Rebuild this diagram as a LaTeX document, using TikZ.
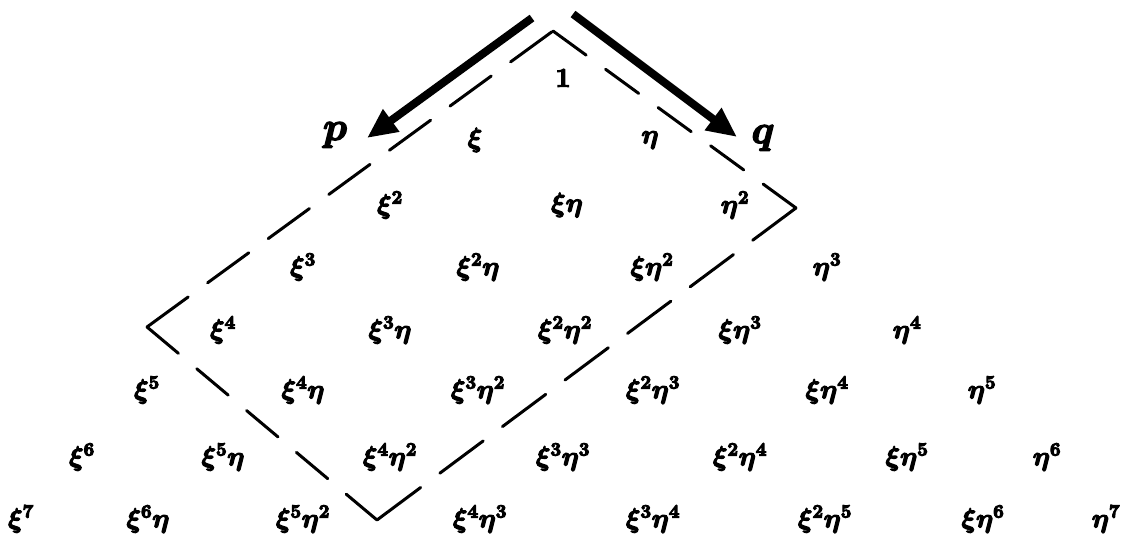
\documentclass[tikz,border=0pt]{standalone}
\usepackage{bm}
\usetikzlibrary{arrows.meta}
\begin{document}
\begin{tikzpicture}[x=1pt,y=-1pt,
  heavy/.style={execute at begin node={\special{pdf:literal direct 2 Tr 0.9 w}},
                execute at end node={\special{pdf:literal direct 0 Tr}}},
  mono/.style={font=\huge\boldmath, inner sep=0pt, scale=1.3, heavy},
  lab/.style={font=\Huge\boldmath, inner sep=0pt, scale=1.6, heavy},
  bigarrow/.style={line width=8pt, -{Triangle[length=30pt,width=26pt]}},
  dside/.style={line width=3pt, line cap=round}]
\useasboundingbox (0,0) rectangle (1121,534);
% dashed region
\coordinate (T) at (553,31);
\coordinate (R) at (796,208);
\coordinate (B) at (377,520);
\coordinate (L) at (147,327);
\draw[dside, dash pattern=on 41pt off 24pt] (T) -- (R);
\draw[dside, dash pattern=on 54pt off 24pt] (R) -- (B);
\draw[dside, dash pattern=on 41pt off 24pt] (L) -- (B);
\draw[dside, dash pattern=on 51pt off 24pt] (L) -- (T);
% arrows
\coordinate (ps) at (532,18);
\coordinate (pt) at (367,138);
\coordinate (qs) at (573,14);
\coordinate (qt) at (737,137);
\draw[bigarrow] (ps) -- (pt);
\draw[bigarrow] (qs) -- (qt);
% row 0
\node[mono] (m00) at (563,78) {$\mathbf{1}$};
% row 1
\node[mono] (m10) at (475,140) {$\xi$};
\node[mono] (m11) at (650,140) {$\eta$};
% row 2
\node[mono] (m20) at (390,205) {$\xi^2$};
\node[mono] (m21) at (567,205) {$\xi\eta$};
\node[mono] (m22) at (735,205) {$\eta^2$};
% row 3
\node[mono] (m30) at (303,267) {$\xi^3$};
\node[mono] (m31) at (478,267) {$\xi^2\eta$};
\node[mono] (m32) at (652,267) {$\xi\eta^2$};
\node[mono] (m33) at (827,267) {$\eta^3$};
% row 4
\node[mono] (m40) at (223,330) {$\xi^4$};
\node[mono] (m41) at (390,330) {$\xi^3\eta$};
\node[mono] (m42) at (565,330) {$\xi^2\eta^2$};
\node[mono] (m43) at (740,330) {$\xi\eta^3$};
\node[mono] (m44) at (907,330) {$\eta^4$};
% row 5
\node[mono] (m50) at (147,390) {$\xi^5$};
\node[mono] (m51) at (303,390) {$\xi^4\eta$};
\node[mono] (m52) at (478,390) {$\xi^3\eta^2$};
\node[mono] (m53) at (653,390) {$\xi^2\eta^3$};
\node[mono] (m54) at (827,390) {$\xi\eta^4$};
\node[mono] (m55) at (982,390) {$\eta^5$};
% row 6
\node[mono] (m60) at (82,457) {$\xi^6$};
\node[mono] (m61) at (223,457) {$\xi^5\eta$};
\node[mono] (m62) at (390,457) {$\xi^4\eta^2$};
\node[mono] (m63) at (563,457) {$\xi^3\eta^3$};
\node[mono] (m64) at (740,457) {$\xi^2\eta^4$};
\node[mono] (m65) at (907,457) {$\xi\eta^5$};
\node[mono] (m66) at (1047,457) {$\eta^6$};
% row 7
\node[mono] (m70) at (21,519) {$\xi^7$};
\node[mono] (m71) at (148,519) {$\xi^6\eta$};
\node[mono] (m72) at (303,519) {$\xi^5\eta^2$};
\node[mono] (m73) at (480,519) {$\xi^4\eta^3$};
\node[mono] (m74) at (653,519) {$\xi^3\eta^4$};
\node[mono] (m75) at (825,519) {$\xi^2\eta^5$};
\node[mono] (m76) at (983,519) {$\xi\eta^6$};
\node[mono] (m77) at (1106,519) {$\eta^7$};
% labels
\node[lab] (p) at (335,135) {$\bm{p}$};
\node[lab] (q) at (763,138) {$\bm{q}$};
\end{tikzpicture}
\end{document}
